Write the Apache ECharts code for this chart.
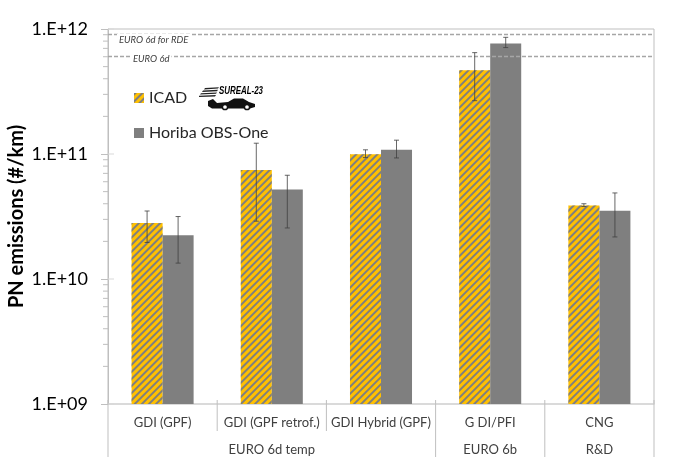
<!DOCTYPE html>
<html>
<head>
<meta charset="utf-8">
<script src="https://cdn.jsdelivr.net/npm/echarts@6/dist/echarts.min.js"></script>
<style>html,body{margin:0;background:#fff}#main{width:683px;height:462px}</style>
</head>
<body>
<div id="main"></div>
<script>
var categories = ['GDI (GPF)', 'GDI (GPF retrof.)', 'GDI Hybrid (GPF)', 'G DI/PFI', 'CNG'];
var groupLabels = ['', 'EURO 6d temp', '', 'EURO 6b', 'R&D'];
var groupBoundaries = [0, 3, 4, 5];
var icad = [2.8e10, 7.45e10, 9.95e10, 4.67e11, 3.87e10];
var icadLow = [1.96e10, 2.9e10, 9.36e10, 2.67e11, 3.8e10];
var icadHigh = [3.5e10, 1.22e11, 1.08e11, 6.47e11, 4.0e10];
var horiba = [2.24e10, 5.19e10, 1.08e11, 7.64e11, 3.52e10];
var horibaLow = [1.34e10, 2.56e10, 9.3e10, 7.1e11, 2.17e10];
var horibaHigh = [3.16e10, 6.76e10, 1.29e11, 8.58e11, 4.88e10];
var limitRde = 9.1e11;
var limit6d = 6.05e11;
var decades = [1e9, 1e10, 1e11];
var minorSteps = [2, 3, 4, 5, 6, 7, 8, 9];

var font = 'Lato';
var barShare = 0.284;
var grey = '#bfbfbf';

var chart = echarts.init(document.getElementById('main'));

var errorBars = function (values, low, high, side, name) {
    return {
        type: 'custom',
        name: name,
        z: 5,
        data: values.map(function (v, i) { return [i, low[i], high[i]]; }),
        encode: { x: 0, y: [1, 2] },
        renderItem: function (params, api) {
            var band = api.size([1, 0])[0];
            var x = api.coord([api.value(0), 1e9])[0] + side * band * barShare / 2;
            var y1 = api.coord([api.value(0), api.value(1)])[1];
            var y2 = api.coord([api.value(0), api.value(2)])[1];
            var st = { stroke: '#404040', lineWidth: 0.8 };
            return {
                type: 'group',
                children: [
                    { type: 'line', shape: { x1: x, y1: y1, x2: x, y2: y2 }, style: st },
                    { type: 'line', shape: { x1: x - 2.5, y1: y1, x2: x + 2.5, y2: y1 }, style: st },
                    { type: 'line', shape: { x1: x - 2.5, y1: y2, x2: x + 2.5, y2: y2 }, style: st }
                ]
            };
        }
    };
};

// log axis minor ticks, and the part of the major ticks inside the plot
var tickData = [];
decades.forEach(function (d) {
    tickData.push([0, d, 1]);
    minorSteps.forEach(function (m) { tickData.push([0, d * m, 0]); });
});
tickData.push([0, 1e12, 1]);

option = {
    animation: false,
    textStyle: { fontFamily: font },
    grid: { left: 108, right: 29, top: 29, bottom: 58, show: true, borderColor: grey, borderWidth: 1, outerBoundsMode: 'none' },
    legend: {
        data: ['ICAD', 'Horiba OBS-One'],
        orient: 'vertical',
        left: 129,
        top: 85,
        itemWidth: 10,
        itemHeight: 10,
        itemGap: 19,
        selectedMode: false,
        icon: 'rect',
        textStyle: { fontFamily: font, fontSize: 16, color: '#262626' }
    },
    xAxis: [
        {
            type: 'category',
            data: categories,
            axisLine: { lineStyle: { color: '#d9d9d9', width: 1.5 } },
            axisTick: { show: false },
            axisLabel: { fontFamily: font, fontSize: 13, color: '#404040', margin: 12, interval: 0 }
        },
        {
            type: 'category',
            position: 'bottom',
            offset: 27,
            data: groupLabels,
            axisLine: { show: false },
            axisTick: { show: false },
            axisLabel: { fontFamily: font, fontSize: 13, color: '#404040', margin: 12, interval: 0 }
        }
    ],
    yAxis: {
        type: 'log',
        logBase: 10,
        min: 1e9,
        max: 1e12,
        name: 'PN emissions (#/km)',
        nameLocation: 'middle',
        nameGap: 81,
        nameMoveOverlap: false,
        nameTextStyle: { fontFamily: font, fontSize: 20, fontWeight: 'bold', color: '#000' },
        axisLine: { show: true, lineStyle: { color: grey } },
        axisTick: { show: true, length: 7, lineStyle: { color: grey } },
        splitLine: { show: false },
        axisLabel: {
            fontFamily: font, fontSize: 18, color: '#000', margin: 20,
            formatter: function (v) { return '1.E+' + String(Math.round(Math.log10(v))).padStart(2, '0'); }
        }
    },
    graphic: [
        {
            type: 'group',
            silent: true,
            children: [
                { type: 'polygon', shape: { points: [[205, 88], [219, 87.2], [218, 88.6], [204, 89.4]] }, style: { fill: '#222' } },
                { type: 'polygon', shape: { points: [[203, 90.6], [218, 89.8], [217, 91.2], [202, 92]] }, style: { fill: '#222' } },
                { type: 'polygon', shape: { points: [[201, 93.2], [217, 92.4], [216, 93.8], [200, 94.6]] }, style: { fill: '#222' } },
                { type: 'polygon', shape: { points: [[199, 95.8], [216, 95], [215, 96.4], [199, 97]] }, style: { fill: '#222' } },
                { type: 'text', x: 219, y: 85, scaleX: 0.72, style: { text: 'SUREAL-23', fontFamily: 'Liberation Sans', fontSize: 11, fontStyle: 'italic', fontWeight: 'bold', fill: '#000' } },
                { type: 'polygon', shape: { points: [[208, 101], [213, 99], [217, 103], [228, 102], [234, 98.4], [243, 98.4], [249, 102], [255, 104], [255, 107], [250, 108.5], [212, 108.5], [208, 106]] }, style: { fill: '#111' } },
                { type: 'circle', shape: { cx: 225, cy: 107, r: 2.6 }, style: { fill: '#fff', stroke: '#111', lineWidth: 1.5 } },
                { type: 'circle', shape: { cx: 247, cy: 107, r: 2.6 }, style: { fill: '#fff', stroke: '#111', lineWidth: 1.5 } }
            ]
        }
    ],
    series: [
        {
            type: 'bar',
            name: 'ICAD',
            data: icad,
            barWidth: '28.4%',
            barGap: 0,
            itemStyle: {
                color: '#ffc000',
                decal: {
                    symbol: 'rect',
                    color: '#7f7f7f',
                    dashArrayX: [1, 0],
                    dashArrayY: [1.1, 2.1],
                    rotation: -Math.PI / 4
                }
            },
            markLine: {
                silent: true,
                symbol: 'none',
                animation: false,
                lineStyle: { type: [4, 2], color: '#a6a6a6', width: 1.3 },
                data: [
                    { yAxis: limitRde, label: { formatter: 'EURO 6d for RDE', distance: [9, 0] } },
                    { yAxis: limit6d, label: { formatter: 'EURO 6d', distance: [23, -3] } }
                ],
                label: {
                    position: 'insideStartBottom',
                    fontFamily: font,
                    fontSize: 9.5,
                    fontStyle: 'italic',
                    color: '#404040',
                    backgroundColor: '#fff',
                    padding: [1, 2, 1, 2]
                }
            }
        },
        {
            type: 'bar',
            name: 'Horiba OBS-One',
            data: horiba,
            barWidth: '28.4%',
            barGap: 0,
            itemStyle: { color: '#7f7f7f' }
        },
        errorBars(icad, icadLow, icadHigh, -1, 'icadError'),
        errorBars(horiba, horibaLow, horibaHigh, 1, 'horibaError'),
        {
            type: 'custom',
            name: 'axisTicks',
            silent: true,
            data: tickData,
            encode: { x: 0, y: 1 },
            renderItem: function (params, api) {
                var x = params.coordSys.x;
                var y = api.coord([0, api.value(1)])[1];
                var major = api.value(2) === 1;
                return {
                    type: 'line',
                    shape: { x1: major ? x : x - 5, y1: y, x2: major ? x + 6 : x, y2: y },
                    style: { stroke: major ? '#d9d9d9' : grey, lineWidth: 1 }
                };
            }
        },
        {
            type: 'custom',
            name: 'categorySeparators',
            silent: true,
            data: [0, 1, 2, 3, 4, 5].map(function (b) { return [0, 1e9, b]; }),
            encode: { x: 0, y: 1 },
            renderItem: function (params, api) {
                var b = api.value(2);
                var cs = params.coordSys;
                var x = cs.x + b * cs.width / categories.length;
                var y = cs.y + cs.height;
                var long = groupBoundaries.indexOf(b) >= 0;
                return {
                    type: 'line',
                    shape: { x1: x, y1: y - 4, x2: x, y2: y + (long ? 53 : 27) },
                    style: { stroke: grey, lineWidth: 1 }
                };
            }
        }
    ]
};
chart.setOption(option);
</script>
</body>
</html>
